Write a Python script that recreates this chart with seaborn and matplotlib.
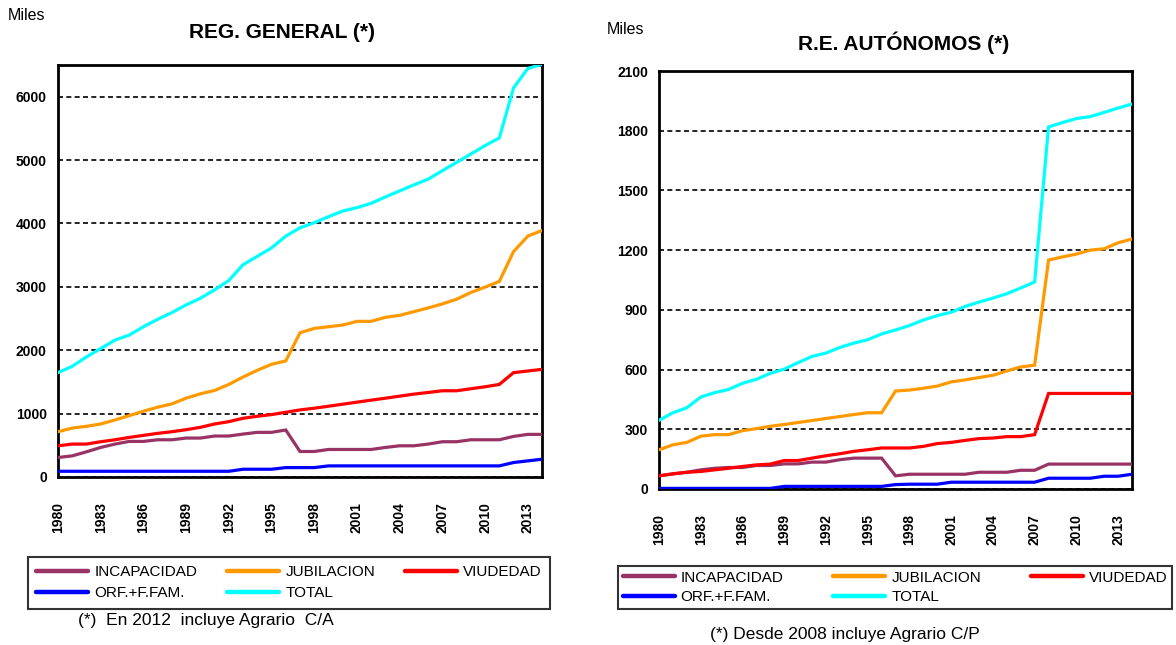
import matplotlib
matplotlib.use('Agg')
import matplotlib.pyplot as plt
import seaborn as sns
import pandas as pd
from matplotlib.lines import Line2D

# === Datos (miles de pensiones) ===
anos = list(range(1980, 2015))
series = ['INCAPACIDAD', 'JUBILACION', 'VIUDEDAD', 'ORF.+F.FAM.', 'TOTAL']
colores = ['#993366', '#FF9900', '#FF0000', '#0000FF', '#00FFFF']

gen_incapacidad = [307, 333, 397, 466, 519, 561, 561, 587, 587, 614, 614, 646, 646, 677, 704, 704, 741,
                   402, 402, 434, 434, 434, 434, 466, 492, 492, 519, 556, 556, 587, 587, 587, 640, 672, 672]
gen_jubilacion = [714, 772, 799, 836, 899, 968, 1037, 1101, 1153, 1243, 1312, 1365, 1460, 1577, 1683, 1778, 1831,
                  2275, 2344, 2370, 2397, 2455, 2455, 2519, 2550, 2608, 2667, 2730, 2804, 2910, 2995, 3085, 3556, 3799, 3889]
gen_viudedad = [492, 519, 519, 556, 587, 624, 656, 688, 714, 746, 783, 836, 873, 926, 958, 984, 1021,
                1058, 1085, 1116, 1148, 1180, 1212, 1243, 1275, 1307, 1333, 1360, 1360, 1392, 1423, 1460, 1646, 1672, 1698]
gen_orfandad = [90, 90, 90, 90, 90, 90, 90, 90, 90, 90, 90, 90, 90, 122, 122, 122, 148,
                148, 148, 175, 175, 175, 175, 175, 175, 175, 175, 175, 175, 175, 175, 175, 228, 254, 280]
gen_total = [1646, 1746, 1894, 2026, 2159, 2238, 2370, 2487, 2593, 2714, 2820, 2952, 3100, 3349, 3481, 3614, 3799,
             3931, 4011, 4106, 4196, 4249, 4317, 4418, 4513, 4608, 4698, 4831, 4963, 5095, 5228, 5349, 6138, 6444, 6510]

aut_incapacidad = [66, 76, 84, 96, 104, 108, 108, 118, 118, 126, 126, 135, 135, 147, 155, 155, 155,
                   66, 74, 74, 74, 74, 74, 84, 84, 84, 94, 94, 125, 125, 125, 125, 125, 125, 125]
aut_jubilacion = [197, 222, 234, 265, 273, 273, 293, 303, 315, 324, 334, 344, 354, 364, 374, 383, 383,
                  492, 497, 506, 517, 538, 548, 560, 571, 593, 613, 622, 1150, 1166, 1180, 1200, 1207, 1237, 1256]
aut_viudedad = [66, 76, 84, 88, 96, 104, 113, 121, 125, 143, 143, 155, 167, 177, 189, 197, 206,
                206, 206, 214, 228, 234, 244, 253, 256, 263, 263, 273, 480, 480, 480, 480, 480, 480, 480]
aut_orfandad = [3, 3, 3, 3, 3, 3, 3, 3, 3, 13, 13, 13, 13, 13, 13, 13, 13,
                22, 24, 24, 24, 34, 34, 34, 34, 34, 34, 34, 54, 54, 54, 54, 64, 64, 74]
aut_total = [345, 383, 408, 462, 484, 500, 531, 551, 581, 602, 635, 666, 683, 711, 733, 750, 779,
             799, 821, 849, 871, 888, 917, 939, 959, 981, 1010, 1040, 1819, 1841, 1861, 1871, 1892, 1914, 1934]

sns.set_style('white')
plt.rcParams['font.family'] = ['Liberation Sans', 'DejaVu Sans']
plt.rcParams['text.color'] = 'black'
plt.rcParams['xtick.color'] = 'black'
plt.rcParams['ytick.color'] = 'black'
plt.rcParams['axes.labelcolor'] = 'black'

FUENTE_EJES = 10


def dibujar_panel(ax, datos, ymax, yticks):
    df = pd.DataFrame({'ano': anos})
    for nombre, valores in zip(series, datos):
        df[nombre] = valores
    largo = df.melt(id_vars='ano', var_name='serie', value_name='valor')
    sns.lineplot(data=largo, x='ano', y='valor', hue='serie', hue_order=series,
                 palette=dict(zip(series, colores)), linewidth=2.3, legend=False,
                 ax=ax, zorder=3)
    for linea in ax.lines:
        linea.set_solid_joinstyle('miter')

    ax.set_xlim(1980, 2014)
    ax.set_ylim(0, ymax)
    ax.set_yticks(yticks)
    ax.set_yticklabels([str(v) for v in yticks], fontweight='bold', fontsize=FUENTE_EJES)
    ax.set_xticks(anos)
    ax.set_xticklabels([str(a) if (a - 1980) % 3 == 0 else '' for a in anos],
                       rotation=90, fontweight='bold', fontsize=FUENTE_EJES)
    ax.tick_params(axis='both', direction='out', length=4, width=1.2, color='black', pad=4)
    ax.tick_params(axis='x', pad=14)
    ax.set_axisbelow(True)
    ax.yaxis.grid(True, color='black', linestyle=(0, (3, 2)), linewidth=1.2)
    ax.xaxis.grid(False)
    for lado in ax.spines.values():
        lado.set_color('black')
        lado.set_linewidth(2)
    ax.set_xlabel('')
    ax.set_ylabel('')


fig = plt.figure(figsize=(11.76, 6.45), dpi=100)
ax1 = fig.add_axes([0.0493, 0.2605, 0.4116, 0.6388])
ax2 = fig.add_axes([0.5604, 0.2419, 0.4022, 0.648])

dibujar_panel(ax1, [gen_incapacidad, gen_jubilacion, gen_viudedad, gen_orfandad, gen_total],
              6500, list(range(0, 7000, 1000)))
dibujar_panel(ax2, [aut_incapacidad, aut_jubilacion, aut_viudedad, aut_orfandad, aut_total],
              2100, list(range(0, 2400, 300)))

# === Títulos ===
fig.text(282 / 1176, 1 - 38.5 / 645, 'REG. GENERAL (*)', fontsize=15, fontweight='bold',
         ha='center', va='baseline')
fig.text(904 / 1176, 1 - 50.5 / 645, 'R.E. AUTÓNOMOS (*)', fontsize=15, fontweight='bold',
         ha='center', va='baseline')

# === Leyendas ===
orden = [0, 3, 1, 4, 2]
manijas = [Line2D([0], [0], color=colores[i], linewidth=3.2) for i in orden]
etiquetas = [series[i] for i in orden]
for caja, espacio, relleno in [((0.0238, 0.05, 0.4438, 0.0864), 0.45, 0.55),
                               ((0.5255, 0.03, 0.4711, 0.0925), 0.35, 0.3)]:
    ley = fig.legend(manijas, etiquetas, ncol=3, loc='upper left', bbox_to_anchor=caja,
                     mode='expand', fontsize=11, frameon=True, fancybox=False,
                     handlelength=3.4, handletextpad=0.4, labelspacing=espacio,
                     borderpad=relleno, borderaxespad=0)
    ley.get_frame().set_edgecolor('black')
    ley.get_frame().set_linewidth(1.5)

fig.text(8 / 1176, 1 - 15 / 645, 'Miles', fontsize=11.5, va='center', ha='left')
fig.text(607 / 1176, 1 - 30 / 645, 'Miles', fontsize=11.5, va='center', ha='left')
fig.text(78 / 1176, 1 - 620 / 645, '(*)  En 2012  incluye Agrario  C/A', fontsize=12.5,
         va='center', ha='left')
fig.text(710 / 1176, 1 - 634 / 645, '(*) Desde 2008 incluye Agrario C/P', fontsize=12.5,
         va='center', ha='left')

fig.savefig('out.png', dpi=100)
